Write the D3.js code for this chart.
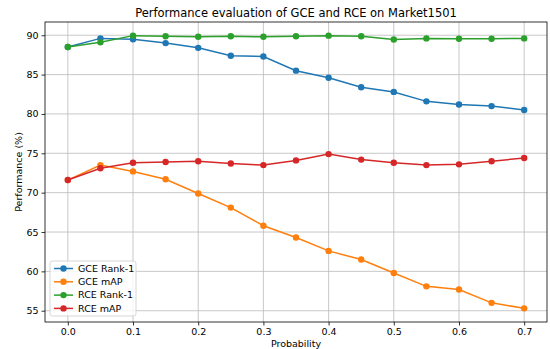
<!DOCTYPE html>
<html>
<head>
<meta charset="utf-8">
<script src="https://cdn.jsdelivr.net/npm/d3@7"></script>
<style>
  body { margin: 0; background: #fff; }
  svg { display: block; font-family: "DejaVu Sans", sans-serif; }
</style>
</head>
<body>
<div id="chart"></div>
<script>
// Data
const Probabilities = [0.0, 0.05, 0.1, 0.15, 0.2, 0.25, 0.3, 0.35, 0.4, 0.45, 0.5, 0.55, 0.6, 0.65, 0.7];
const GceRank1 = [88.5, 89.6, 89.5, 89.0, 88.4, 87.4, 87.3, 85.5, 84.6, 83.4, 82.8, 81.6, 81.2, 81.0, 80.5];
const GceMap = [71.6, 73.5, 72.7, 71.7, 69.9, 68.1, 65.8, 64.3, 62.6, 61.5, 59.8, 58.1, 57.7, 56.0, 55.3];
const RceRank1 = [88.5, 89.1, 89.95, 89.87, 89.8, 89.87, 89.8, 89.87, 89.95, 89.87, 89.45, 89.6, 89.55, 89.55, 89.6];
const RceMap = [71.6, 73.1, 73.8, 73.9, 74.0, 73.7, 73.5, 74.1, 74.9, 74.2, 73.8, 73.5, 73.6, 74.0, 74.4];
const SeriesNames = ["GCE Rank-1", "GCE mAP", "RCE Rank-1", "RCE mAP"];
const SeriesColors = ["#1f77b4", "#ff7f0e", "#2ca02c", "#d62728"];
const XTicks = [0.0, 0.1, 0.2, 0.3, 0.4, 0.5, 0.6, 0.7];
const YTicks = [55, 60, 65, 70, 75, 80, 85, 90];

const Width = 550, Height = 349;
const Margin = { left: 45, right: 3, top: 22, bottom: 27 };
const Series = [GceRank1, GceMap, RceRank1, RceMap].map((Values, I) => ({
    Name: SeriesNames[I], Color: SeriesColors[I],
    Points: Values.map((V, J) => [Probabilities[J], V])
}));

const Svg = d3.select("#chart").append("svg").attr("width", Width).attr("height", Height);

// Scales with matplotlib-like 5% padding
const XPad = 0.7 * 0.05;
const X = d3.scaleLinear().domain([-XPad, 0.7 + XPad]).range([Margin.left, Width - Margin.right]);
const AllValues = Series.flatMap(S => S.Points.map(P => P[1]));
const YMin = d3.min(AllValues), YMax = d3.max(AllValues), YPad = (YMax - YMin) * 0.05;
const Y = d3.scaleLinear().domain([YMin - YPad, YMax + YPad]).range([Height - Margin.bottom, Margin.top]);

// Grid
const Grid = Svg.append("g").attr("stroke", "#b0b0b0").attr("stroke-width", 0.8).attr("opacity", 0.85);
Grid.selectAll("line.gx").data(XTicks).join("line")
    .attr("x1", d => X(d)).attr("x2", d => X(d))
    .attr("y1", Margin.top).attr("y2", Height - Margin.bottom);
Grid.selectAll("line.gy").data(YTicks).join("line")
    .attr("y1", d => Y(d)).attr("y2", d => Y(d))
    .attr("x1", Margin.left).attr("x2", Width - Margin.right);

// Axes
const XAxis = Svg.append("g").attr("transform", `translate(0,${Height - Margin.bottom})`)
    .call(d3.axisBottom(X).tickValues(XTicks).tickFormat(d3.format(".1f")).tickSize(3.5).tickPadding(3));
const YAxis = Svg.append("g").attr("transform", `translate(${Margin.left},0)`)
    .call(d3.axisLeft(Y).tickValues(YTicks).tickSize(3.5).tickPadding(3));
[XAxis, YAxis].forEach(A => {
    A.select(".domain").remove();
    A.selectAll("text").attr("font-size", 9.5).attr("fill", "#000").attr("font-family", "DejaVu Sans, sans-serif");
    A.selectAll("line").attr("stroke", "#000").attr("stroke-width", 0.8);
});

// Lines and markers
const Line = d3.line().x(d => X(d[0])).y(d => Y(d[1]));
const SeriesGroups = Svg.append("g").selectAll("g").data(Series).join("g");
SeriesGroups.append("path")
    .attr("d", S => Line(S.Points)).attr("fill", "none")
    .attr("stroke", S => S.Color).attr("stroke-width", 1.5);
SeriesGroups.selectAll("circle").data(S => S.Points.map(P => ({ P: P, Color: S.Color }))).join("circle")
    .attr("cx", d => X(d.P[0])).attr("cy", d => Y(d.P[1])).attr("r", 3.2).attr("fill", d => d.Color);

// Frame
Svg.append("rect")
    .attr("x", Margin.left).attr("y", Margin.top)
    .attr("width", Width - Margin.left - Margin.right).attr("height", Height - Margin.top - Margin.bottom)
    .attr("fill", "none").attr("stroke", "#000").attr("stroke-width", 0.8);

// Title and labels
Svg.append("text").attr("x", (Margin.left + Width - Margin.right) / 2).attr("y", 17)
    .attr("text-anchor", "middle").attr("font-size", 11.5).text("Performance evaluation of GCE and RCE on Market1501");
Svg.append("text").attr("x", (Margin.left + Width - Margin.right) / 2).attr("y", 347)
    .attr("text-anchor", "middle").attr("font-size", 9.5).text("Probability");
Svg.append("text").attr("transform", `translate(22,${(Margin.top + Height - Margin.bottom) / 2}) rotate(-90)`)
    .attr("text-anchor", "middle").attr("font-size", 9.5).text("Performance (%)");

// Legend
const Legend = Svg.append("g").attr("transform", "translate(50,261)");
Legend.append("rect").attr("width", 86).attr("height", 55).attr("rx", 2.5)
    .attr("fill", "#fff").attr("fill-opacity", 0.8).attr("stroke", "#cccccc").attr("stroke-width", 0.8);
const Entries = Legend.selectAll("g").data(Series).join("g")
    .attr("transform", (d, I) => `translate(0,${7.5 + I * 13.3})`);
Entries.append("line").attr("x1", 4).attr("x2", 23).attr("stroke", d => d.Color).attr("stroke-width", 1.5);
Entries.append("circle").attr("cx", 13.5).attr("r", 3.2).attr("fill", d => d.Color);
Entries.append("text").attr("x", 28).attr("dy", "0.35em").attr("font-size", 9.5).text(d => d.Name);
</script>
</body>
</html>
